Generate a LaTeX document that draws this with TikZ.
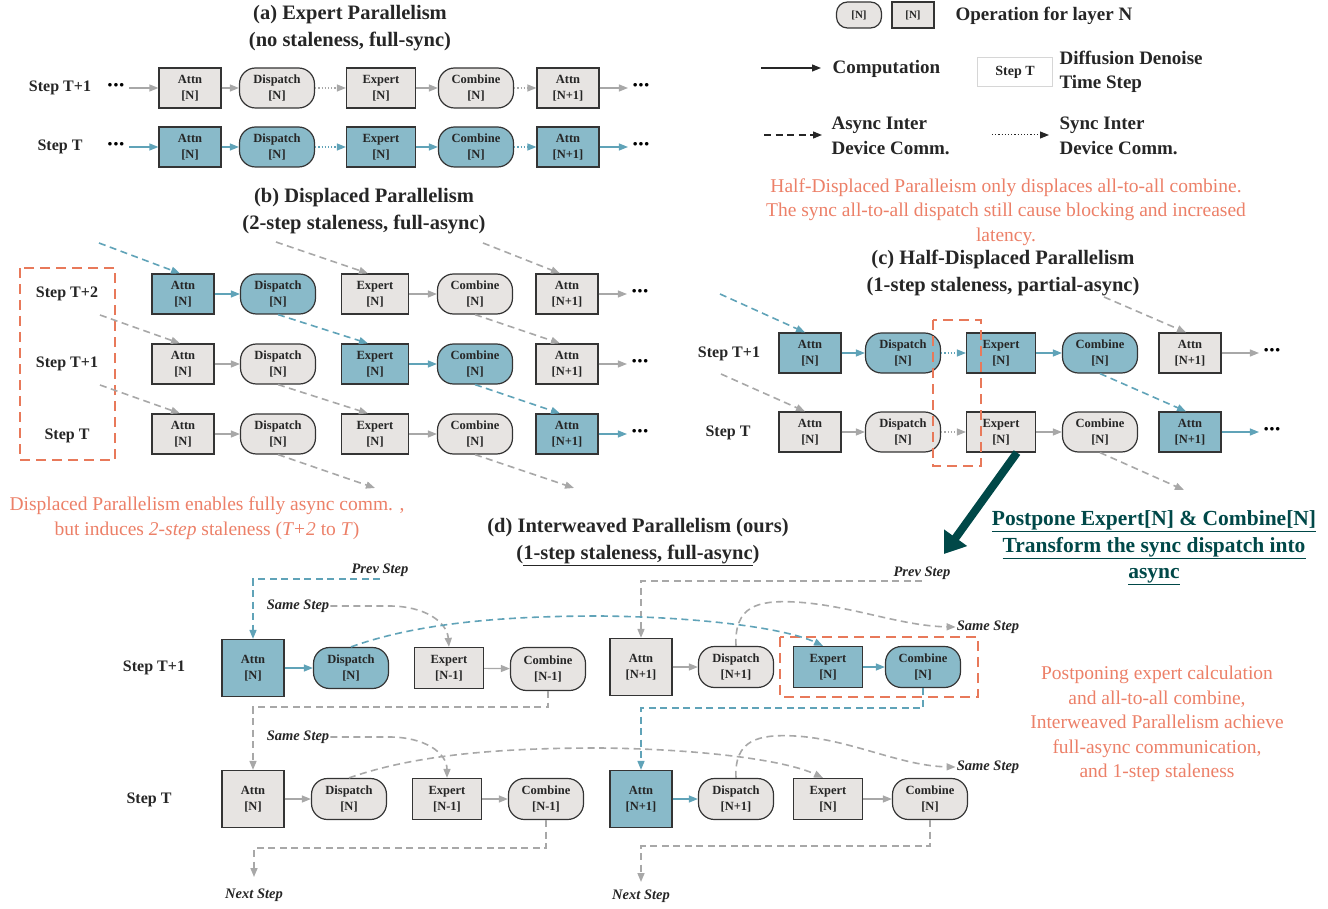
\documentclass[tikz,border=0pt]{standalone}
\usepackage{fontspec}
\setmainfont{Liberation Serif}
\usetikzlibrary{arrows.meta,positioning}

\definecolor{opblue}{RGB}{137,186,201}
\definecolor{opgray}{RGB}{231,228,226}
\definecolor{boxline}{RGB}{52,52,52}
\definecolor{txtdark}{RGB}{38,38,38}
\definecolor{arrblue}{RGB}{96,163,184}
\definecolor{arrgray}{RGB}{168,168,168}
\definecolor{hlred}{RGB}{232,121,90}
\definecolor{txtred}{RGB}{236,128,104}
\definecolor{deepteal}{RGB}{0,72,72}
\definecolor{keyline}{RGB}{214,214,214}

\newcommand{\opfont}{\fontsize{12.5}{15.5}\selectfont\bfseries}
\newcommand{\ttlfont}{\fontsize{20.5}{27}\selectfont\bfseries}
\newcommand{\lblfont}{\fontsize{16}{19}\selectfont\bfseries}
\newcommand{\keyfont}{\fontsize{19}{24.5}\selectfont\bfseries}
\newcommand{\notefont}{\fontsize{19.5}{24.5}\selectfont}
\newcommand{\tagfont}{\fontsize{14.5}{16}\selectfont\bfseries\itshape}
\newcommand{\rowdots}{\fontsize{22}{22}\selectfont\bfseries\textperiodcentered\kern-1.5pt\textperiodcentered\kern-1.5pt\textperiodcentered}

\tikzstyle{op} = [rectangle,
                  draw=boxline,
                  line width=1.2pt,
                  align=center,
                  inner sep=1pt,
                  minimum height=40pt,
                  font=\opfont,
                  text=txtdark]
\tikzstyle{sq} = [op, minimum width=62pt]
\tikzstyle{ex} = [op, minimum width=69pt]
\tikzstyle{rd} = [op, rounded corners=16pt, minimum width=75pt]
\tikzstyle{gy} = [fill=opgray]
\tikzstyle{bu} = [fill=opblue]
\tikzstyle{lbl} = [font=\lblfont, text=txtdark]
\tikzstyle{tag} = [font=\tagfont, text=txtdark, inner sep=1pt]
\tikzstyle{run} = [->, line width=1.2pt]
\tikzstyle{sync} = [->, line width=1.2pt, dotted]
\tikzstyle{async} = [->, line width=1.6pt, dash pattern=on 7pt off 4.5pt]
\tikzstyle{hold} = [draw=hlred, line width=2.8pt, dash pattern=on 10pt off 6pt]
\tikzstyle{flow} = [x=1pt, y=-1pt,
                    >={Triangle[length=9pt,width=7pt]}]

\begin{document}
\begin{tikzpicture}[flow]
  \useasboundingbox (0,0) rectangle (1328,909);

  % (a) expert parallelism
  \node[font=\ttlfont, text=txtdark, align=center] (atitle) at (350,28) {(a) Expert Parallelism\\(no staleness, full-sync)};
  \node[lbl] (alab1) at (60,88) {Step T+1};
  \node[lbl] (alab0) at (60,147) {Step T};
  \node (a1in) at (116,88) {\rowdots};
  \node[sq,gy] (a1at) at (190,88) {Attn\\{[N]}};
  \node[rd,gy] (a1di) at (277,88) {Dispatch\\{[N]}};
  \node[ex,gy] (a1ex) at (381,88) {Expert\\{[N]}};
  \node[rd,gy] (a1co) at (476,88) {Combine\\{[N]}};
  \node[sq,gy] (a1an) at (568,88) {Attn\\{[N+1]}};
  \node (a1out) at (641,88) {\rowdots};
  \node (a0in) at (116,147) {\rowdots};
  \node[sq,bu] (a0at) at (190,147) {Attn\\{[N]}};
  \node[rd,bu] (a0di) at (277,147) {Dispatch\\{[N]}};
  \node[ex,bu] (a0ex) at (381,147) {Expert\\{[N]}};
  \node[rd,bu] (a0co) at (476,147) {Combine\\{[N]}};
  \node[sq,bu] (a0an) at (568,147) {Attn\\{[N+1]}};
  \node (a0out) at (641,147) {\rowdots};
  \path[run,arrgray]
    (a1in) edge (a1at)
    (a1at) edge (a1di)
    (a1ex) edge (a1co)
    (a1an) edge (a1out);
  \path[sync,arrgray]
    (a1di) edge (a1ex)
    (a1co) edge (a1an);
  \path[run,arrblue]
    (a0in) edge (a0at)
    (a0at) edge (a0di)
    (a0ex) edge (a0co)
    (a0an) edge (a0out);
  \path[sync,arrblue]
    (a0di) edge (a0ex)
    (a0co) edge (a0an);

  % legend
  \node[rd,gy,minimum width=45pt,minimum height=26pt,rounded corners=11pt,font=\fontsize{11}{12}\selectfont\bfseries] (keyrd) at (859,15) {[N]};
  \node[sq,gy,minimum width=42pt,minimum height=26pt,font=\fontsize{11}{12}\selectfont\bfseries] (keysq) at (913,15) {[N]};
  \node[font=\keyfont, text=txtdark, anchor=west] (keyop) at (952,16) {Operation for layer N};
  \coordinate (keyc0) at (761,68);
  \coordinate (keyc1) at (821,68);
  \node[font=\keyfont, text=txtdark, anchor=west] (keycomp) at (829,69) {Computation};
  \node[draw=keyline, line width=1.2pt, minimum width=75pt, minimum height=29pt,
        font=\fontsize{14}{16}\selectfont\bfseries, text=txtdark] (keystep) at (1015,72) {Step T};
  \node[font=\keyfont, text=txtdark, anchor=west, align=left] (keydiff) at (1056,72) {Diffusion Denoise\\Time Step};
  \coordinate (keya0) at (764,135);
  \coordinate (keya1) at (822,135);
  \node[font=\keyfont, text=txtdark, anchor=west, align=left] (keyasync) at (828,136) {Async Inter\\Device Comm.};
  \coordinate (keys0) at (992,135);
  \coordinate (keys1) at (1049,135);
  \node[font=\keyfont, text=txtdark, anchor=west, align=left] (keysync) at (1056,136) {Sync Inter\\Device Comm.};
  \draw[run,txtdark] (keyc0) -- (keyc1);
  \draw[async,txtdark,line width=1.3pt] (keya0) -- (keya1);
  \draw[sync,txtdark,line width=1pt] (keys0) -- (keys1);
  \node[font=\notefont, text=txtred, align=center] (cnote) at (1006,212)
    {Half-Displaced Paralleism only displaces all-to-all combine.\\The sync all-to-all dispatch still cause blocking and increased\\latency.};

  % (b) displaced parallelism
  \node[font=\ttlfont, text=txtdark, align=center] (btitle) at (364,211) {(b) Displaced Parallelism\\(2-step staleness, full-async)};
  \draw[hold] (20,268) rectangle (115,460);
  \node[lbl] (blab2) at (67,294) {Step T+2};
  \node[lbl] (blab1) at (67,364) {Step T+1};
  \node[lbl] (blab0) at (67,436) {Step T};
  \node[sq,bu] (b2at) at (183,294) {Attn\\{[N]}};
  \node[rd,bu] (b2di) at (278,294) {Dispatch\\{[N]}};
  \node[ex,gy,minimum width=67pt] (b2ex) at (375,294) {Expert\\{[N]}};
  \node[rd,gy] (b2co) at (475,294) {Combine\\{[N]}};
  \node[sq,gy] (b2an) at (567,294) {Attn\\{[N+1]}};
  \node (b2out) at (640,294) {\rowdots};
  \node[sq,gy] (b1at) at (183,364) {Attn\\{[N]}};
  \node[rd,gy] (b1di) at (278,364) {Dispatch\\{[N]}};
  \node[ex,bu,minimum width=67pt] (b1ex) at (375,364) {Expert\\{[N]}};
  \node[rd,bu] (b1co) at (475,364) {Combine\\{[N]}};
  \node[sq,gy] (b1an) at (567,364) {Attn\\{[N+1]}};
  \node (b1out) at (640,364) {\rowdots};
  \node[sq,gy] (b0at) at (183,434) {Attn\\{[N]}};
  \node[rd,gy] (b0di) at (278,434) {Dispatch\\{[N]}};
  \node[ex,gy,minimum width=67pt] (b0ex) at (375,434) {Expert\\{[N]}};
  \node[rd,gy] (b0co) at (475,434) {Combine\\{[N]}};
  \node[sq,bu] (b0an) at (567,434) {Attn\\{[N+1]}};
  \node (b0out) at (640,434) {\rowdots};
  \coordinate (b2src) at (99,243);
  \coordinate (b2srcx) at (276,242);
  \coordinate (b2srcn) at (483,243);
  \coordinate (b1src) at (100,315);
  \coordinate (b0src) at (100,385);
  \coordinate (b0dstx) at (375,488);
  \coordinate (b0dstn) at (574,488);
  \path[run,arrblue]
    (b2at) edge (b2di)
    (b1ex) edge (b1co)
    (b0an) edge (b0out);
  \path[run,arrgray]
    (b2ex) edge (b2co)
    (b2an) edge (b2out)
    (b1at) edge (b1di)
    (b1an) edge (b1out)
    (b0at) edge (b0di)
    (b0ex) edge (b0co);
  \draw[async,arrblue] (b2src) -- ([xshift=-3pt]b2at.north);
  \draw[async,arrgray] (b2srcx) -- ([xshift=-7pt]b2ex.north);
  \draw[async,arrgray] (b2srcn) -- ([xshift=-7pt]b2an.north);
  \draw[async,arrgray] (b1src) -- ([xshift=-3pt]b1at.north);
  \draw[async,arrblue] (b2di.south) -- ([xshift=-7pt]b1ex.north);
  \draw[async,arrgray] (b2co.south) -- ([xshift=-7pt]b1an.north);
  \draw[async,arrgray] (b0src) -- ([xshift=-3pt]b0at.north);
  \draw[async,arrgray] (b1di.south) -- ([xshift=-7pt]b0ex.north);
  \draw[async,arrblue] (b1co.south) -- ([xshift=-7pt]b0an.north);
  \draw[async,arrgray] (b0di.south) -- (b0dstx);
  \draw[async,arrgray] (b0co.south) -- (b0dstn);
  \node[font=\notefont, text=txtred, align=center] (bnote) at (207,518)
    {Displaced Parallelism enables fully async comm. ,\\but induces \textit{2-step} staleness (\textit{T+2} to \textit{T})};

  % (c) half-displaced parallelism
  \node[font=\ttlfont, text=txtdark, align=center] (ctitle) at (1003,273) {(c) Half-Displaced Parallelism\\(1-step staleness, partial-async)};
  \node[lbl] (clab1) at (729,354) {Step T+1};
  \node[lbl] (clab0) at (728,433) {Step T};
  \node[sq,bu] (c1at) at (810,353) {Attn\\{[N]}};
  \node[rd,bu] (c1di) at (903,353) {Dispatch\\{[N]}};
  \node[ex,bu] (c1ex) at (1001,353) {Expert\\{[N]}};
  \node[rd,bu] (c1co) at (1100,353) {Combine\\{[N]}};
  \node[sq,gy] (c1an) at (1190,353) {Attn\\{[N+1]}};
  \node (c1out) at (1272,353) {\rowdots};
  \node[sq,gy] (c0at) at (810,432) {Attn\\{[N]}};
  \node[rd,gy] (c0di) at (903,432) {Dispatch\\{[N]}};
  \node[ex,gy] (c0ex) at (1001,432) {Expert\\{[N]}};
  \node[rd,gy] (c0co) at (1100,432) {Combine\\{[N]}};
  \node[sq,bu] (c0an) at (1190,432) {Attn\\{[N+1]}};
  \node (c0out) at (1272,432) {\rowdots};
  \coordinate (c1src) at (720,294);
  \coordinate (c1srcn) at (1104,297);
  \coordinate (c0src) at (721,374);
  \coordinate (c0dstn) at (1184,490);
  \path[run,arrblue]
    (c1at) edge (c1di)
    (c1ex) edge (c1co)
    (c0an) edge (c0out);
  \path[sync,arrblue] (c1di) edge (c1ex);
  \path[run,arrgray]
    (c1an) edge (c1out)
    (c0at) edge (c0di)
    (c0ex) edge (c0co);
  \path[sync,arrgray] (c0di) edge (c0ex);
  \draw[async,arrblue] (c1src) -- ([xshift=-5pt]c1at.north);
  \draw[async,arrgray] (c0src) -- ([xshift=-5pt]c0at.north);
  \draw[async,arrgray] (c1srcn) -- ([xshift=-4pt]c1an.north);
  \draw[async,arrblue] (c1co.south) -- ([xshift=-4pt]c0an.north);
  \draw[async,arrgray] (c0co.south) -- (c0dstn);
  \draw[hold] (933,320) rectangle (981,466);
  \coordinate (cturn) at (944,554);
  \draw[deepteal, line width=8pt, -{Triangle[length=20pt,width=27pt]}] ([xshift=16pt]c0ex.south) -- (cturn);
  \node[font=\fontsize{21.5}{26.5}\selectfont\bfseries, text=deepteal, align=center] (cpost) at (1154,548)
    {\underline{Postpone Expert[N] \& Combine[N]}\\\underline{Transform the sync dispatch into}\\\underline{async}};

  % (d) interweaved parallelism
  \node[font=\ttlfont, text=txtdark, align=center] (dtitle) at (638,542) {(d) Interweaved Parallelism (ours)\\(\underline{1-step staleness, full-async})};
  \node[lbl] (dlab1) at (154,668) {Step T+1};
  \node[lbl] (dlab0) at (149,800) {Step T};
  \node[sq,bu,minimum height=57pt] (d1at) at (253,668) {Attn\\{[N]}};
  \node[rd,bu,minimum height=41pt] (d1di) at (351,668) {Dispatch\\{[N]}};
  \node[ex,gy,minimum height=41pt] (d1ex) at (449,668) {Expert\\{[N-1]}};
  \node[rd,gy,minimum height=43pt] (d1co) at (548,669) {Combine\\{[N-1]}};
  \node[sq,gy,minimum height=57pt] (d1an) at (641,667) {Attn\\{[N+1]}};
  \node[rd,gy,minimum height=41pt] (d1dn) at (736,667) {Dispatch\\{[N+1]}};
  \node[ex,bu,minimum height=41pt] (d1ey) at (828,667) {Expert\\{[N]}};
  \node[rd,bu,minimum height=41pt] (d1cy) at (923,667) {Combine\\{[N]}};
  \node[sq,gy,minimum height=57pt] (d0at) at (253,799) {Attn\\{[N]}};
  \node[rd,gy,minimum height=41pt] (d0di) at (349,799) {Dispatch\\{[N]}};
  \node[ex,gy,minimum height=41pt] (d0ex) at (447,799) {Expert\\{[N-1]}};
  \node[rd,gy,minimum height=41pt] (d0co) at (546,799) {Combine\\{[N-1]}};
  \node[sq,bu,minimum height=57pt] (d0an) at (641,799) {Attn\\{[N+1]}};
  \node[rd,gy,minimum height=41pt] (d0dn) at (736,799) {Dispatch\\{[N+1]}};
  \node[ex,gy,minimum height=41pt] (d0ey) at (828,799) {Expert\\{[N]}};
  \node[rd,gy,minimum height=41pt] (d0cy) at (930,799) {Combine\\{[N]}};
  \path[run,arrblue]
    (d1at) edge (d1di)
    (d1ey) edge (d1cy)
    (d0an) edge (d0dn);
  \path[run,arrgray]
    (d1ex) edge (d1co)
    (d1an) edge (d1dn)
    (d0at) edge (d0di)
    (d0ex) edge (d0co)
    (d0ey) edge (d0cy);
  \draw[hold] (780,637) rectangle (978,697);
  % step-to-step hand-overs
  \coordinate (dprev1) at (380,579);
  \coordinate (dprev2) at (922,581);
  \coordinate (dnext1) at (254,877);
  \coordinate (dnext2) at (641,882);
  \node[tag, above=1pt of dprev1] (dprevt1) {Prev Step};
  \node[tag, above=0pt of dprev2] (dprevt2) {Prev Step};
  \node[tag, below=11pt of dnext1] (dnextt1) {Next Step};
  \node[tag, below=7pt of dnext2] (dnextt2) {Next Step};
  \draw[async,arrblue] (dprev1) -| (d1at.north);
  \draw[async,arrgray] (dprev2) -| (d1an.north);
  \draw[async,arrgray] (d1co.south) -- ++(0,16) -| (d0at.north);
  \draw[async,arrblue] (d1cy.south) -- ++(0,20) -| (d0an.north);
  \draw[async,arrgray] (d0co.south) -- ++(0,28) -| (dnext1);
  \draw[async,arrgray] (d0cy.south) -- ++(0,26) -| (dnext2);
  % same-step hand-overs
  \node[tag] (dsame1) at (298,606) {Same Step};
  \node[tag] (dsame2) at (988,627) {Same Step};
  \node[tag] (dsame3) at (298,737) {Same Step};
  \node[tag] (dsame4) at (988,767) {Same Step};
  \draw[async,arrgray] (dsame1.east) -- (389,606) .. controls (425,606) and (447,622) .. (d1ex.north);
  \draw[async,arrgray] (dsame3.east) -- (389,737) .. controls (425,737) and (447,753) .. (d0ex.north);
  \draw[async,arrblue] (d1di.north) .. controls (420,622) and (510,616) .. (600,616) .. controls (700,617) and (785,628) .. ([xshift=-5pt]d1ey.north);
  \draw[async,arrgray] (d0di.north) .. controls (420,753) and (510,748) .. (600,748) .. controls (700,749) and (785,760) .. ([xshift=-5pt]d0ey.north);
  \draw[async,arrgray] (d1dn.north) .. controls (734,606) and (758,600) .. (795,602) .. controls (850,605) and (900,626) .. (dsame2.west);
  \draw[async,arrgray] (d0dn.north) .. controls (734,740) and (758,734) .. (795,736) .. controls (850,739) and (900,766) .. (dsame4.west);
  \node[font=\notefont, text=txtred, align=center] (dnote) at (1157,724)
    {Postponing expert calculation\\and all-to-all combine,\\Interweaved Parallelism achieve\\full-async communication,\\and 1-step staleness};
\end{tikzpicture}
\end{document}
